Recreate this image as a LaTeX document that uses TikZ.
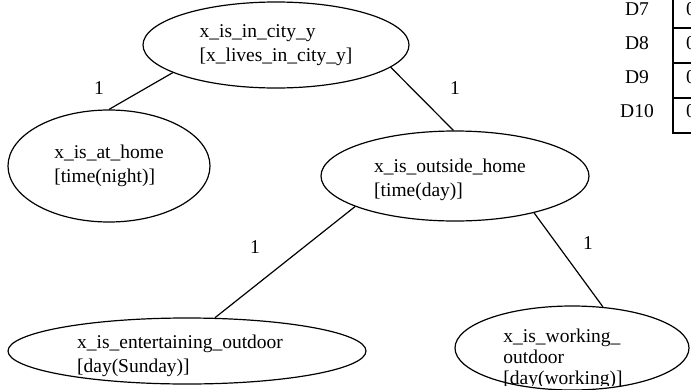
\documentclass[tikz,border=0pt]{standalone}
\usepackage{fontspec}
\setmainfont{Liberation Serif}
\usepackage{tikz}
\usetikzlibrary{shapes.geometric}

\begin{document}
\begin{tikzpicture}[>=latex,x=1pt,y=-1pt,
	schrift/.style={font=\fontsize{19.5}{24.5}\selectfont},
	zustand/.style={draw,ellipse,line width=1.2pt,inner sep=0pt,
		align=left,schrift},
	inhalt/.style={schrift,align=left,inner sep=0pt},
	kante/.style={line width=1.2pt},
	gewicht/.style={schrift,inner sep=0pt}]

\def\bildbreite{691}
\def\bildhoehe{389}

\useasboundingbox (0,0) rectangle ({\bildbreite},{\bildhoehe});
\clip (0,0) rectangle ({\bildbreite},{\bildhoehe});

% Tabelle rechts oben (abgeschnitten)
\draw[line width=2pt] (673,-5) -- (673,133) -- (700,133);
\foreach \y in {28,63,98}
	\draw[line width=2pt] (673,\y) -- (700,\y);
\foreach \n/\y in {7/9,8/43,9/77,10/111} {
	\node (d\n) at (637,\y) [gewicht] {D\n};
	\node (w\n) at (686,\y) [gewicht,anchor=west] {0};
}

% Baum
\node (stadt) at (276,45)
	[zustand,minimum width=266pt,minimum height=86pt]
	{x\_is\_in\_city\_y\\{[}x\_lives\_in\_city\_y{]}};

\node (heim) at (109,166)
	[zustand,minimum width=202pt,minimum height=112pt]
	{x\_is\_at\_home\\{[}time(night){]}};

\node (aussen) at (455,176)
	[zustand,minimum width=268pt,minimum height=90pt] {};
\node (aussentext) at (450,180) [inhalt]
	{x\_is\_outside\_home\\{[}time(day){]}};

\node (freizeit) at (187,351)
	[zustand,minimum width=358pt,minimum height=66pt] {};
\node (freizeittext) at (180,356) [inhalt]
	{x\_is\_entertaining\_outdoor\\{[}day(Sunday){]}};

\node (arbeit) at (572,348)
	[zustand,minimum width=234pt,minimum height=84pt] {};
\begin{scope}
\clip (440,300) rectangle (691,385);
\node (arbeittext) at (563,359)
	[inhalt,font=\fontsize{19.5}{21}\selectfont]
	{x\_is\_working\_\\outdoor\\{[}day(working){]}};
\end{scope}

\draw[kante] (stadt.195) -- (heim.north);
\draw[kante] (stadt.349) -- (aussen.92);
\draw[kante] (aussen.197) -- (freizeit.50);
\draw[kante] (aussen.335) -- (arbeit.53);

\node (g1) at (99,88) [gewicht] {1};
\node (g2) at (455,88) [gewicht] {1};
\node (g3) at (255,247) [gewicht] {1};
\node (g4) at (588,243) [gewicht] {1};

\end{tikzpicture}
\end{document}
